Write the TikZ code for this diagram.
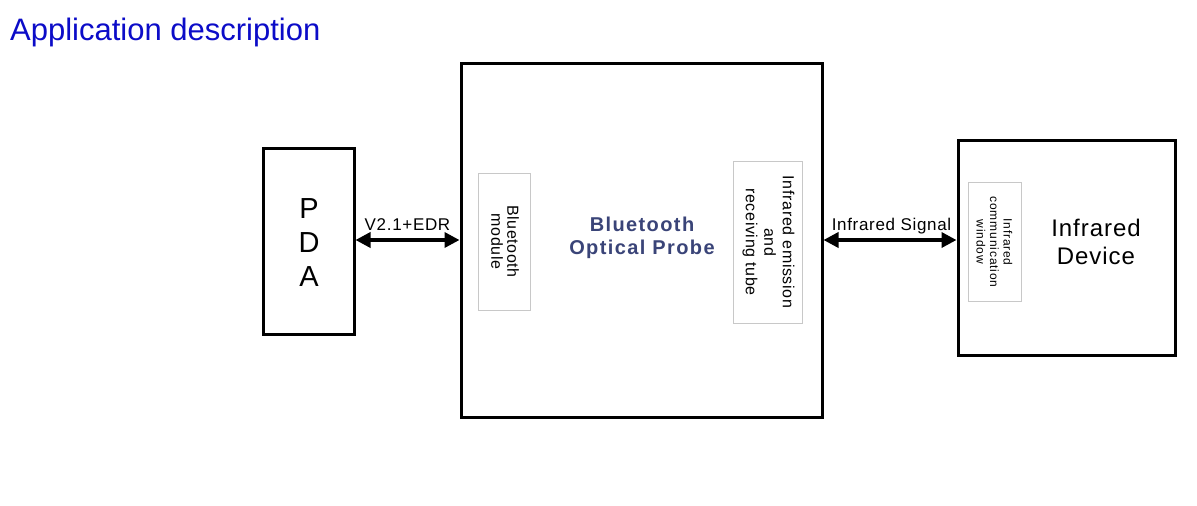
\documentclass[tikz,border=0pt]{standalone}
\usepackage{fontspec}
\setmainfont{Liberation Sans}
\newfontfamily\lsA[LetterSpace=4]{Liberation Sans}
\newfontfamily\lsB[LetterSpace=7]{Liberation Sans}
\usetikzlibrary{arrows.meta}
\definecolor{titleblue}{RGB}{12,12,200}
\definecolor{probeblue}{RGB}{58,68,120}
\definecolor{thingray}{RGB}{200,200,200}
\tikzset{
  bigbox/.style={draw=black, line width=3pt, minimum width=#1, inner sep=0pt},
  smallbox/.style={draw=thingray, line width=1pt, inner sep=0pt},
  biarrow/.style={line width=3.5pt, {Triangle[length=15pt,width=15pt]}-{Triangle[length=15pt,width=15pt]}},
  lbl/.style={font=\lsA\fontsize{17}{17}\selectfont, inner sep=0pt, anchor=base}
}
\begin{document}
\begin{tikzpicture}[x=1pt,y=-1pt]
\useasboundingbox[fill=white] (0,0) rectangle (1197,506);
% title
\node[anchor=base west, inner sep=0pt, text=titleblue, font=\fontsize{31}{31}\selectfont] (title) at (10,40) {Application description};
% boxes
\node[bigbox=91pt, minimum height=186pt] (pda) at (308.5,241) {};
\node[bigbox=361pt, minimum height=354pt] (probe) at (641.5,240) {};
\node[bigbox=217pt, minimum height=215pt] (ird) at (1066.5,247.5) {};
\node[smallbox, minimum width=52pt, minimum height=137pt] (btm) at (504,241.5) {};
\node[smallbox, minimum width=69pt, minimum height=162pt] (ire) at (767.5,242) {};
\node[smallbox, minimum width=53pt, minimum height=119pt] (irw) at (994.5,241.5) {};
% texts
\node[align=center, inner sep=0pt, font=\fontsize{29}{34}\selectfont] (pdat) at (309,243) {P\\D\\A};
\node[align=center, inner sep=0pt, rotate=-90, font=\lsA\fontsize{16}{16}\selectfont] (btmt) at (505,241.5) {Bluetooth\\module};
\node[align=center, inner sep=0pt, rotate=-90, font=\lsA\fontsize{16}{18.5}\selectfont] (iret) at (768.5,242) {Infrared emission\\and\\receiving tube};
\node[align=center, inner sep=0pt, rotate=-90, font=\lsB\fontsize{12}{13.5}\selectfont] (irwt) at (994.5,242) {Infrared\\communication\\window};
\node[align=center, inner sep=0pt, text=probeblue, font=\lsB\bfseries\fontsize{20}{23}\selectfont] (probet) at (642,238) {Bluetooth\\Optical Probe};
\node[align=center, inner sep=0pt, font=\lsA\fontsize{24}{28}\selectfont] (irdt) at (1096,242) {Infrared\\Device};
% connectors
\coordinate (a1) at (0,240);
\draw[biarrow] (pda.east |- a1) -- (probe.west |- a1);
\draw[biarrow] (probe.east |- a1) -- (ird.west |- a1);
\node[lbl] (l1) at (407.5,230.5) {V2.1+EDR};
\node[lbl] (l2) at (891.5,230.5) {Infrared Signal};
\end{tikzpicture}
\end{document}
